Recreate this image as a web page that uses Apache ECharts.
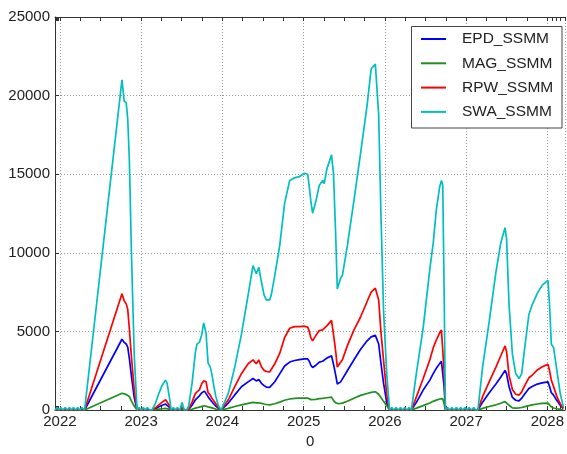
<!DOCTYPE html>
<html>
<head>
<meta charset="utf-8">
<script src="https://cdn.jsdelivr.net/npm/echarts@6/dist/echarts.min.js"></script>
<style>
  html, body { margin: 0; padding: 0; background: #ffffff; }
  #chart { width: 567px; height: 454px; }
</style>
</head>
<body>
<div id="chart"></div>
<script>
// Sample dates shared by all four instrument series
const dates = [
  '2021-12-10','2021-12-19','2021-12-28','2022-01-06','2022-01-14','2022-01-25','2022-02-03','2022-02-13',
  '2022-02-22','2022-03-03','2022-03-13','2022-03-22','2022-03-31','2022-04-10','2022-04-22',
  '2022-10-07','2022-10-17','2022-10-26','2022-11-02','2022-11-09','2022-11-19','2022-12-01','2022-12-14',
  '2022-12-23','2023-01-01','2023-01-11','2023-01-20','2023-01-29','2023-02-08','2023-02-19',
  '2023-03-07','2023-03-22','2023-04-06','2023-04-21','2023-04-28','2023-05-10','2023-05-16',
  '2023-05-26','2023-06-04','2023-06-13','2023-06-24','2023-07-04','2023-07-14','2023-07-25',
  '2023-08-03','2023-08-18','2023-09-02','2023-09-09','2023-09-20','2023-10-01','2023-10-09','2023-10-13',
  '2023-10-20','2023-10-29','2023-11-08','2023-11-15','2023-11-23','2023-12-03','2023-12-15','2023-12-27',
  '2024-01-28','2024-02-26','2024-03-27','2024-04-26','2024-05-18','2024-06-02','2024-06-13','2024-06-25',
  '2024-07-07','2024-07-17','2024-08-01','2024-08-08','2024-08-24','2024-09-15','2024-10-07','2024-10-30',
  '2024-11-21','2024-12-13','2025-01-04','2025-01-19','2025-01-26','2025-02-02','2025-02-10','2025-02-25',
  '2025-03-12','2025-03-27','2025-04-03','2025-04-15','2025-05-06','2025-05-15','2025-05-25','2025-06-01',
  '2025-06-09','2025-06-16','2025-06-24','2025-07-16','2025-08-15','2025-09-13','2025-10-13','2025-10-31',
  '2025-11-19','2025-11-26','2025-12-04','2025-12-14','2025-12-26','2026-01-10','2026-01-22',
  '2026-02-01','2026-02-10','2026-02-20','2026-03-02','2026-03-12','2026-03-21','2026-03-31','2026-04-10',
  '2026-04-20','2026-04-30',
  '2026-05-23','2026-06-22','2026-07-22','2026-08-06','2026-08-20','2026-09-04','2026-09-12','2026-09-18',
  '2026-09-24','2026-09-30',
  '2026-10-10','2026-10-19','2026-10-29','2026-11-08','2026-11-18','2026-11-28','2026-12-08','2026-12-17',
  '2026-12-27','2027-01-05','2027-01-15','2027-01-25','2027-02-04','2027-02-13','2027-02-23',
  '2027-03-16','2027-04-15','2027-05-15','2027-06-06','2027-06-25','2027-07-02','2027-07-13','2027-07-28',
  '2027-08-12','2027-08-27','2027-09-08','2027-09-18','2027-10-10','2027-10-25','2027-11-17','2027-12-09',
  '2028-01-04','2028-01-11','2028-01-19','2028-01-29','2028-02-13','2028-02-28','2028-03-13'
];

const epd = [
  0,0,0,0,0,0,0,0, 0,0,0,0,0,0,0,
  4500,4300,4200,4000,3300,2100,800,0,
  0,0,0,0,0,0,0,
  80,200,300,380,350,150,0,
  0,0,0,0,0,0,0,
  30,300,650,750,900,1100,1180,1200, 1100,850,650,540,400,250,100,0,
  440,960,1480,1790,2000,1850,1940,1700, 1550,1460,1440,1480,1800,2300,2800,3050,
  3150,3200,3250,3250,3100,2850,2700,2850, 3050,3100,3150,3300,3450,2900,2200,1650,
  1650,1790,1900,2500,3200,3850,4400,4650, 4750,4800,4200,3000,1690,400,0,
  0,0,0,0,0,0,0,0, 0,0,
  500,1270,1900,2310,2650,2950,3100,3050, 1500,0,
  0,0,0,0,0,0,0,0, 0,0,0,0,0,0,0,
  500,1100,1650,2100,2520,2300,1480,800, 620,580,750,950,1370,1500,1650,1730,
  1790,1500,1100,950,600,300,100
];

const mag = [
  0,0,0,0,0,0,0,0, 0,0,0,0,0,0,0,
  1060,1030,980,930,860,560,250,0,
  0,0,0,0,0,0,0,
  20,50,80,100,90,40,0,
  0,0,0,0,0,0,0,
  10,50,120,150,180,230,260,270, 250,200,170,140,100,60,20,0,
  100,220,330,420,480,450,460,420, 380,350,330,340,400,500,620,700,
  740,750,760,760,720,660,640,680, 720,740,740,780,820,600,450,400,
  400,420,440,560,750,930,1050,1120, 1160,1170,1000,800,550,250,0,
  0,0,0,0,0,0,0,0, 0,0,
  120,280,450,550,630,700,750,720, 400,0,
  0,0,0,0,0,0,0,0, 0,0,0,0,0,0,0,
  100,220,330,430,540,480,300,130, 120,130,160,200,280,330,380,420,
  440,350,200,130,80,40,10
];

const rpw = [
  0,0,0,0,0,0,0,0, 0,0,0,0,0,0,0,
  7400,6950,6750,6400,5200,3300,1300,0,
  0,0,0,0,0,0,0,
  150,330,500,650,600,250,0,
  0,0,0,0,150,0,0,
  50,500,1060,1150,1280,1690,1850,1950, 1800,1100,950,750,600,400,150,0,
  650,1480,2310,2940,3190,2940,3190,2750, 2520,2450,2420,2480,2940,3600,4600,5200,
  5300,5300,5330,5270,5000,4600,4400,4750, 5050,5100,5100,5350,5700,4800,3700,2730,
  2800,3040,3200,4080,5100,5900,6900,7500, 7750,7800,7000,5000,3140,870,0,
  0,0,0,0,0,0,0,0, 0,0,
  850,2000,3200,3950,4450,4900,5100,5000, 2500,0,
  0,0,0,0,0,0,0,0, 0,0,0,0,0,0,0,
  850,1800,2730,3450,4080,3700,2200,1300, 1000,950,1150,1450,2050,2210,2550,2750,
  2900,2500,1900,1500,850,400,100
];

const swa = [
  0,150,0,150,0,150,0,150, 0,150,0,150,0,150,0,
  21000,19650,19550,18500,16000,9800,3560,0,
  150,0,150,0,150,0,0,
  440,1060,1580,1900,1700,640,0,
  150,0,150,0,480,0,0,
  250,1690,3670,4190,4300,4810,5540,5650, 4900,3000,2730,2300,1600,850,250,0,
  1060,2730,4810,7310,9190,8670,9080,8140, 7310,7000,7000,7310,8560,10440,13140,14600,
  14770,14850,15060,15000,14190,13300,12520,13300, 14290,14600,14400,15330,16230,15000,11000,7700,
  7800,8400,8560,10440,13350,16270,19390,21690, 22000,22100,18770,12520,6270,2120,0,
  150,0,150,0,150,0,150,0, 150,0,
  2400,5230,8980,10600,12730,14190,14600,14300, 7730,0,
  150,0,150,0,150,0,150,0, 150,0,150,0,150,0,0,
  2730,5650,8770,10640,11600,10850,6690,3560, 2310,2000,2310,3560,6060,6690,7420,7940,
  8250,6690,4190,3980,2520,1060,200
];

const seriesNames = ['EPD_SSMM', 'MAG_SSMM', 'RPW_SSMM', 'SWA_SSMM'];
const seriesColors = ['#0000ff', '#1f8f1f', '#ff0000', '#00bfbf'];
const seriesValues = [epd, mag, rpw, swa];
const yTicks = [0, 5000, 10000, 15000, 20000, 25000];

const FONT = 'Liberation Sans';
const SPINE = '#333333';
const GRIDC = '#9a9a9a';
const X_MIN = '2021-12-10';
const X_MAX = '2028-03-21';

const chart = echarts.init(document.getElementById('chart'), null, { renderer: 'canvas' });

const series = seriesNames.map((name, k) => ({
  name,
  type: 'line',
  data: dates.map((d, i) => [d, seriesValues[k][i]]),
  symbol: 'none',
  showSymbol: false,
  clip: true,
  lineStyle: { color: seriesColors[k], width: 1.7 },
  itemStyle: { color: seriesColors[k] },
  emphasis: { disabled: true },
  z: 2 + k
}));

const tickStyle = { show: true, inside: true, length: 4, lineStyle: { color: SPINE, width: 1 } };

const option = {
  animation: false,
  backgroundColor: '#ffffff',
  grid: { left: 55, top: 17, right: -3, bottom: 37, containLabel: false },
  xAxis: [
    {
      type: 'time',
      min: X_MIN,
      max: X_MAX,
      splitNumber: 6,
      axisLine: { show: true, lineStyle: { color: SPINE, width: 1 } },
      axisTick: tickStyle,
      minorTick: { show: true, splitNumber: 4, length: 4, lineStyle: { color: SPINE, width: 1 } },
      axisLabel: { formatter: '{yyyy}', color: '#222', fontFamily: FONT, fontSize: 15, margin: 4 },
      splitLine: { show: true, lineStyle: { color: GRIDC, width: 1, type: [1, 2] } },
      name: '0',
      nameLocation: 'middle',
      nameGap: 24,
      nameTextStyle: { color: '#222', fontFamily: FONT, fontSize: 15 }
    },
    {
      type: 'time',
      position: 'top',
      min: X_MIN,
      max: X_MAX,
      splitNumber: 6,
      axisLine: { show: true, lineStyle: { color: SPINE, width: 1 } },
      axisTick: tickStyle,
      minorTick: { show: true, splitNumber: 4, length: 4, lineStyle: { color: SPINE, width: 1 } },
      axisLabel: { show: false },
      splitLine: { show: false }
    }
  ],
  yAxis: {
    type: 'value',
    min: yTicks[0],
    max: yTicks[yTicks.length - 1],
    interval: 5000,
    axisLine: { show: true, lineStyle: { color: SPINE, width: 1 } },
    axisTick: tickStyle,
    axisLabel: {
      color: '#222', fontFamily: FONT, fontSize: 15, margin: 5,
      formatter: v => String(v)
    },
    splitLine: { show: true, lineStyle: { color: GRIDC, width: 1, type: [1, 2] } }
  },
  legend: {
    orient: 'vertical',
    left: 421,
    top: 31,
    padding: 0,
    itemGap: 8.3,
    itemWidth: 25,
    itemHeight: 2,
    icon: 'rect',
    selectedMode: false,
    z: 10,
    data: seriesNames,
    formatter: name => '{gap| }' + name,
    textStyle: {
      color: '#222',
      fontFamily: FONT,
      fontSize: 15.5,
      lineHeight: 16,
      rich: { gap: { width: 11 } }
    }
  },
  graphic: [
    {
      type: 'rect',
      z: 9,
      shape: { x: 411.5, y: 26.5, width: 150.5, height: 101.5 },
      style: { fill: '#ffffff', stroke: '#444444', lineWidth: 1 }
    }
  ],
  series
};

chart.setOption(option);
</script>
</body>
</html>
